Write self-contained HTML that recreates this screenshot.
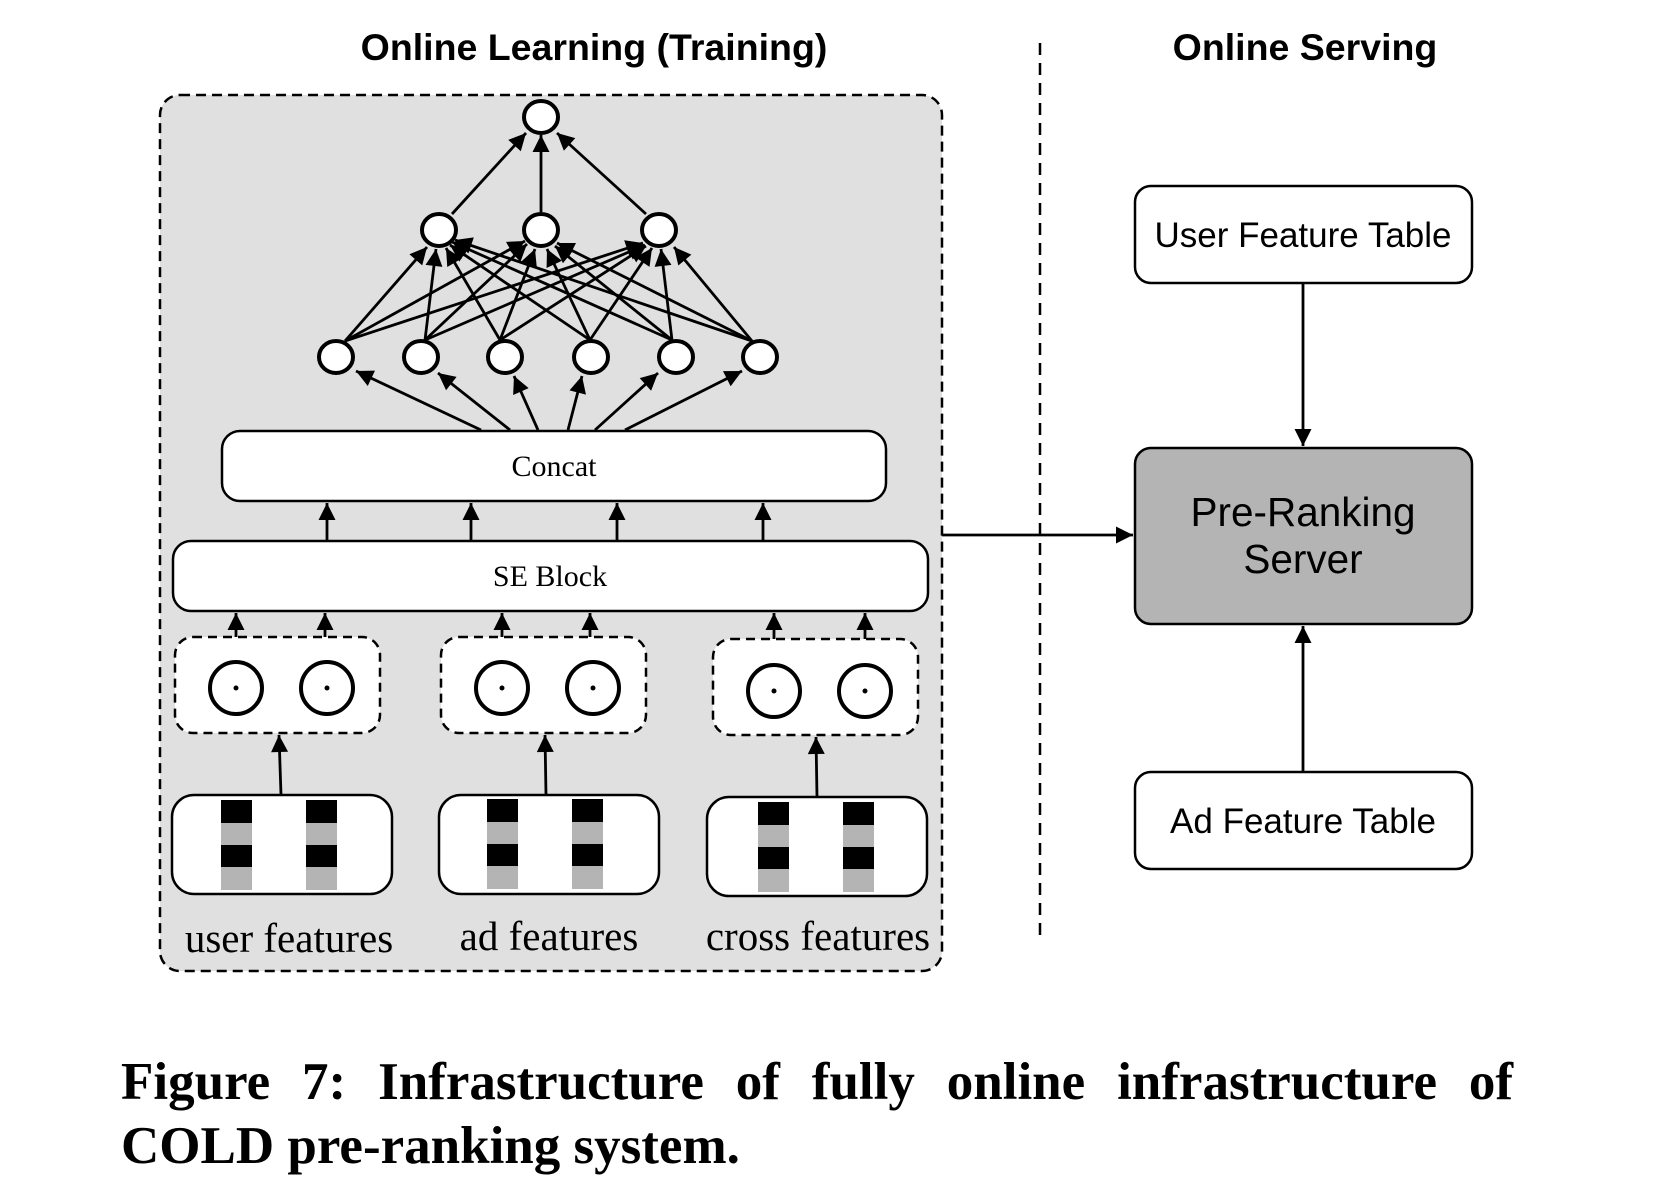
<!DOCTYPE html>
<html><head><meta charset="utf-8"><style>
html,body{margin:0;padding:0;background:#fff;}
body{position:relative;width:1668px;height:1176px;overflow:hidden;}
svg{display:block;position:absolute;left:0;top:0;}
.sans{font-family:"Liberation Sans",sans-serif;}
.serif{font-family:"Liberation Serif",serif;}
.cap{position:absolute;left:121px;width:1392px;font-family:"Liberation Serif",serif;font-weight:bold;font-size:53px;line-height:64px;white-space:nowrap;}
.l1{top:1050px;text-align:justify;text-align-last:justify;}
.l2{top:1114px;}
</style></head><body>
<svg width="1668" height="1176" viewBox="0 0 1668 1176" xmlns="http://www.w3.org/2000/svg">
<defs>
<marker id="b" viewBox="0 0 10 10" refX="10" refY="5" markerWidth="22" markerHeight="17" markerUnits="userSpaceOnUse" orient="auto">
<path d="M0,0 L10,5 L0,10 z" fill="#000"/></marker>
<g id="bar"><rect x="0" y="0" width="31" height="23" fill="#000"/><rect x="0" y="23" width="31" height="22" fill="#b4b4b4"/><rect x="0" y="45" width="31" height="22" fill="#000"/><rect x="0" y="67" width="31" height="23" fill="#b4b4b4"/></g>
</defs>
<text class="sans" x="594" y="60" font-size="37.5" font-weight="bold" text-anchor="middle">Online Learning (Training)</text>
<text class="sans" x="1305" y="60" font-size="37.5" font-weight="bold" text-anchor="middle">Online Serving</text>
<rect x="160" y="95" width="782" height="876" rx="20" fill="#e0e0e0" stroke="#000" stroke-width="2.5" stroke-dasharray="10,6"/>
<line x1="1040" y1="43" x2="1040" y2="939" stroke="#000" stroke-width="2.5" stroke-dasharray="12,8"/>
<g stroke="#000" stroke-width="2.8" fill="none" marker-end="url(#b)">
<line x1="452" y1="214" x2="526" y2="133"/>
<line x1="541" y1="212" x2="541" y2="135"/>
<line x1="646" y1="214" x2="557" y2="133"/>
<line x1="345" y1="341" x2="427" y2="247"/><line x1="345" y1="341" x2="525" y2="241"/><line x1="345" y1="341" x2="643" y2="243"/>
<line x1="425" y1="340" x2="436" y2="249"/><line x1="425" y1="340" x2="527" y2="244"/><line x1="425" y1="340" x2="645" y2="245"/>
<line x1="500" y1="340" x2="446" y2="248"/><line x1="500" y1="340" x2="535" y2="249"/><line x1="500" y1="340" x2="646" y2="246"/>
<line x1="590" y1="340" x2="450" y2="245"/><line x1="590" y1="340" x2="547" y2="249"/><line x1="590" y1="340" x2="652" y2="248"/>
<line x1="672" y1="340" x2="452" y2="242"/><line x1="672" y1="340" x2="555" y2="246"/><line x1="672" y1="340" x2="661" y2="249"/>
<line x1="752" y1="341" x2="455" y2="240"/><line x1="752" y1="341" x2="557" y2="243"/><line x1="752" y1="341" x2="674" y2="247"/>
<line x1="481" y1="430" x2="356" y2="371"/><line x1="510" y1="430" x2="438" y2="373"/><line x1="538" y1="430" x2="514" y2="376"/>
<line x1="568" y1="430" x2="582" y2="376"/><line x1="595" y1="430" x2="658" y2="373"/><line x1="625" y1="430" x2="742" y2="371"/>
<line x1="327" y1="541" x2="327" y2="503"/><line x1="471" y1="541" x2="471" y2="503"/><line x1="617" y1="541" x2="617" y2="503"/><line x1="763" y1="541" x2="763" y2="503"/>
<line x1="236" y1="660" x2="236" y2="613"/><line x1="325" y1="658" x2="325" y2="613"/>
<line x1="502" y1="660" x2="502" y2="613"/><line x1="590" y1="658" x2="590" y2="613"/>
<line x1="774" y1="662" x2="774" y2="613"/><line x1="865" y1="662" x2="865" y2="613"/>
<line x1="281" y1="795" x2="279" y2="735"/><line x1="546" y1="795" x2="545" y2="735"/><line x1="817" y1="797" x2="816" y2="737"/>
<line x1="942" y1="535" x2="1133" y2="535"/>
<line x1="1303" y1="283" x2="1303" y2="446"/>
<line x1="1303" y1="772" x2="1303" y2="626"/>
</g>
<g fill="#fff" stroke="#000" stroke-width="4">
<ellipse cx="541" cy="117" rx="17" ry="16"/>
<ellipse cx="439" cy="230" rx="17" ry="16"/><ellipse cx="541" cy="230" rx="17" ry="16"/><ellipse cx="659" cy="230" rx="17" ry="16"/>
<ellipse cx="336" cy="357" rx="17" ry="16"/><ellipse cx="421" cy="357" rx="17" ry="16"/><ellipse cx="505" cy="357" rx="17" ry="16"/>
<ellipse cx="591" cy="357" rx="17" ry="16"/><ellipse cx="676" cy="357" rx="17" ry="16"/><ellipse cx="760" cy="357" rx="17" ry="16"/>
</g>
<rect x="222" y="431" width="664" height="70" rx="18" fill="#fff" stroke="#000" stroke-width="2.5"/>
<text class="serif" x="554" y="476" font-size="30" text-anchor="middle">Concat</text>
<rect x="173" y="541" width="755" height="70" rx="18" fill="#fff" stroke="#000" stroke-width="2.5"/>
<text class="serif" x="550" y="586" font-size="30" text-anchor="middle">SE Block</text>
<g fill="#fff" stroke="#000" stroke-width="2.5" stroke-dasharray="9,6">
<rect x="175" y="637" width="205" height="96" rx="18"/>
<rect x="441" y="637" width="205" height="96" rx="18"/>
<rect x="713" y="639" width="205" height="96" rx="18"/>
</g>
<g fill="#fff" stroke="#000" stroke-width="4">
<circle cx="236" cy="688" r="26"/><circle cx="327" cy="688" r="26"/>
<circle cx="502" cy="688" r="26"/><circle cx="593" cy="688" r="26"/>
<circle cx="774" cy="691" r="26"/><circle cx="865" cy="691" r="26"/>
</g>
<g fill="#000">
<circle cx="236" cy="688" r="2.5"/><circle cx="327" cy="688" r="2.5"/><circle cx="502" cy="688" r="2.5"/><circle cx="593" cy="688" r="2.5"/><circle cx="774" cy="691" r="2.5"/><circle cx="865" cy="691" r="2.5"/>
</g>
<g fill="#fff" stroke="#000" stroke-width="2.5">
<rect x="172" y="795" width="220" height="99" rx="22"/>
<rect x="439" y="795" width="220" height="99" rx="22"/>
<rect x="707" y="797" width="220" height="99" rx="22"/>
</g>
<use href="#bar" x="221" y="800"/><use href="#bar" x="306" y="800"/>
<use href="#bar" x="487" y="799"/><use href="#bar" x="572" y="799"/>
<use href="#bar" x="758" y="802"/><use href="#bar" x="843" y="802"/>
<text class="serif" x="289" y="952" font-size="41" text-anchor="middle">user features</text>
<text class="serif" x="549" y="950" font-size="41" text-anchor="middle">ad features</text>
<text class="serif" x="818" y="950" font-size="41" text-anchor="middle">cross features</text>
<rect x="1135" y="186" width="337" height="97" rx="16" fill="#fff" stroke="#000" stroke-width="2.5"/>
<text class="sans" x="1303" y="247" font-size="35" text-anchor="middle">User Feature Table</text>
<rect x="1135" y="448" width="337" height="176" rx="16" fill="#b4b4b4" stroke="#000" stroke-width="2.5"/>
<text class="sans" x="1303" y="526" font-size="40.5" text-anchor="middle">Pre-Ranking</text>
<text class="sans" x="1303" y="573" font-size="40.5" text-anchor="middle">Server</text>
<rect x="1135" y="772" width="337" height="97" rx="16" fill="#fff" stroke="#000" stroke-width="2.5"/>
<text class="sans" x="1303" y="833" font-size="35" text-anchor="middle">Ad Feature Table</text>
</svg>
<div class="cap l1">Figure 7: Infrastructure of fully online infrastructure of</div>
<div class="cap l2">COLD pre-ranking system.</div>
</body></html>
